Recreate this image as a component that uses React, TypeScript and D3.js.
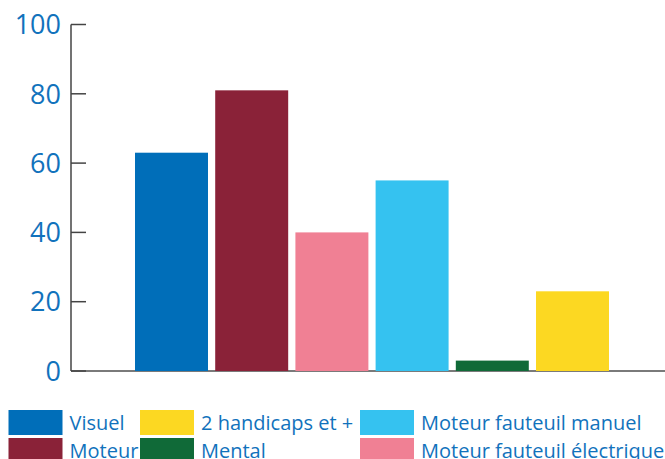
import React from "react";
import * as d3 from "d3";

const categories = ["Visuel", "Moteur", "Moteur fauteuil électrique", "Moteur fauteuil manuel", "Mental", "2 handicaps et +"];
const values = [63, 81, 40, 55, 3, 23];
const colors = ["#006EB9", "#8A2238", "#F08094", "#35C2F0", "#106A38", "#FCD822"];
const yTicks = [0, 20, 40, 60, 80, 100];
const legendOrder = ["Visuel", "2 handicaps et +", "Moteur fauteuil manuel", "Moteur", "Mental", "Moteur fauteuil électrique"];

const W = 665, H = 459;
const textBlue = "#1172BC";
const font = "'Open Sans', sans-serif";

export default function App() {
  const x = d3.scaleBand<string>().domain(categories).range([131.4, 612.6]).paddingInner(0.09).paddingOuter(0.045);
  const y = d3.scaleLinear().domain([0, 100]).range([371, 24.5]);
  const colorOf = d3.scaleOrdinal<string, string>().domain(categories).range(colors);
  const legendX = [8.5, 140, 360];
  const legendY = [410, 438];
  return (
    <svg width={W} height={H} style={{ position: "absolute", left: 0, top: 0 }}>
      <line x1={71} x2={665} y1={y(0)} y2={y(0)} stroke="#7a7a7a" strokeWidth={1.8} />
      {categories.map((c, i) => (
        <rect key={c} x={x(c)} y={y(values[i])} width={x.bandwidth()} height={y(0) - y(values[i])} fill={colorOf(c)} />
      ))}
      <line x1={71} x2={71} y1={y(100)} y2={y(0)} stroke="#444" strokeWidth={1.5} />
      {yTicks.map((t) => (
        <g key={t}>
          <line x1={71} x2={86} y1={y(t)} y2={y(t)} stroke="#444" strokeWidth={1.5} />
          <text x={61} y={y(t)} dy="0.36em" textAnchor="end" fill={textBlue} fontFamily={font} fontSize={27}>{t}</text>
        </g>
      ))}
      {legendOrder.map((c, i) => {
        const col = i % 3, row = Math.floor(i / 3);
        const lx = legendX[col], ly = legendY[row];
        return (
          <g key={c}>
            <rect x={lx} y={ly} width={54} height={25} fill={colorOf(c)} />
            <text x={lx + 61} y={ly + 20} fill={textBlue} fontFamily={font} fontSize={20}>{c}</text>
          </g>
        );
      })}
    </svg>
  );
}
